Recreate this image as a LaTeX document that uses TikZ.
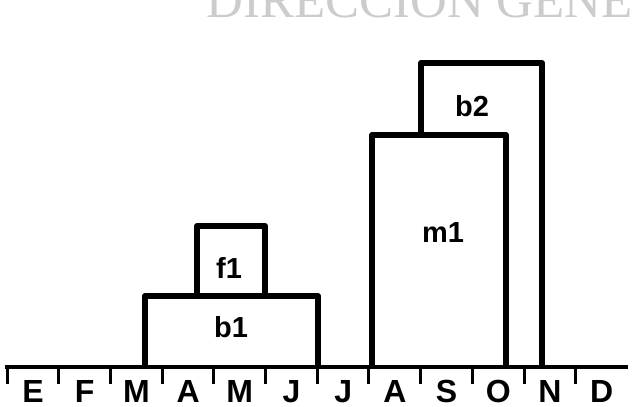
\documentclass[tikz,border=0pt]{standalone}
\usepackage{fontspec}
\setmainfont{Liberation Sans}
\newfontfamily\wmfont{Liberation Serif}
\usetikzlibrary{positioning}

\begin{document}
\begin{tikzpicture}[
  x=0.5pt, y=-0.5pt,
  bar/.style={line width=3pt, line join=round},
  axisline/.style={line width=2pt},
  monthtick/.style={line width=1.5pt},
  lbl/.style={font=\fontsize{14.5}{14.5}\selectfont\bfseries, inner sep=0pt},
  month/.style={font=\fontsize{16}{16}\selectfont\bfseries, inner sep=0pt, anchor=base},
  wm/.style={font=\wmfont\fontsize{25.5}{25.5}\selectfont, text=black!20, inner sep=0pt, anchor=base west}
]
  \useasboundingbox (0,0) rectangle (632,407);

  % faint header bleeding through the scan
  \node[wm] (hdr) at (206,18) {DIRECCION GENE};

  % time axis
  \coordinate (ax0) at (5,367);
  \coordinate (ax1) at (628,367);
  \draw[axisline] (ax0) -- (ax1);
  \foreach \m [count=\i from 0] in {E,F,M,A,M,J,J,A,S,O,N,D} {
    \coordinate (t\i) at ({7+51.7*\i},368);
    \draw[monthtick] (t\i) -- ++(0,16);
    \node[month] (m\i) at ({33+51.7*\i},402) {\m};
  }

  % bars
  \draw[bar] (145,367) -- (145,296) -- (318,296) -- (318,367);
  \draw[bar] (197,296) -- (197,226) -- (265,226) -- (265,296);
  \draw[bar] (372,367) -- (372,135) -- (506,135) -- (506,367);
  \draw[bar] (421,135) -- (421,63) -- (542,63) -- (542,367);

  \node[lbl] (b1) at (231,327.5) {b1};
  \node[lbl] (f1) at (229,267.5) {f1};
  \node[lbl] (m1) at (443,233) {m1};
  \node[lbl] (b2) at (472,106) {b2};
\end{tikzpicture}
\end{document}
